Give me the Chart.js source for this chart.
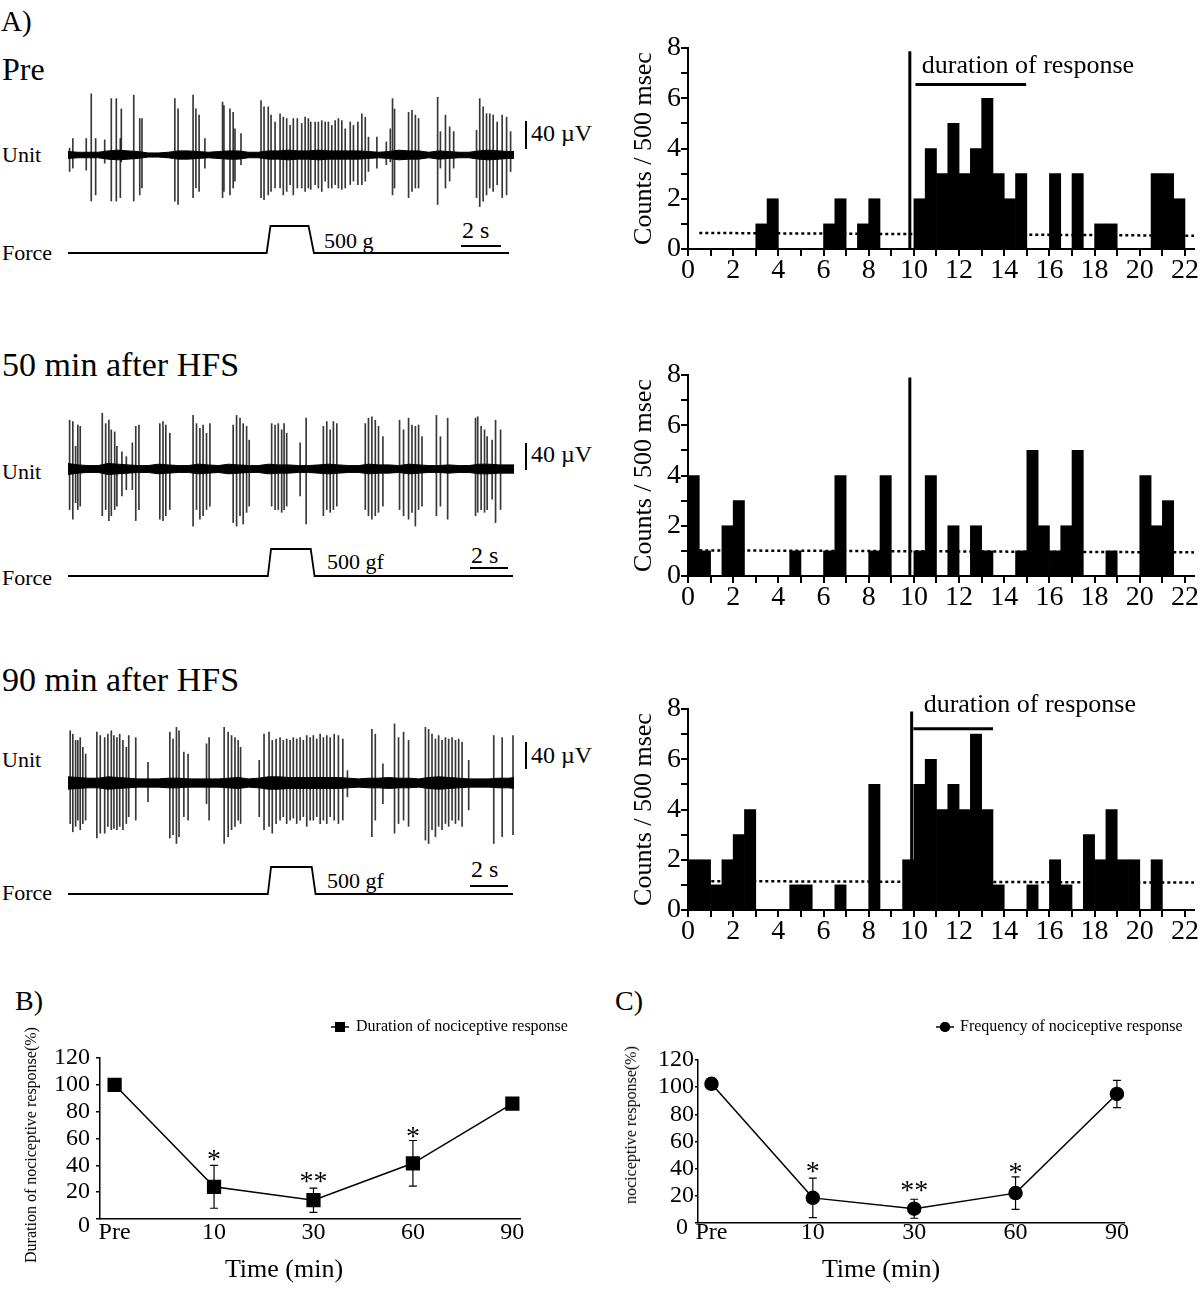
<!DOCTYPE html>
<html>
<head>
<meta charset="utf-8">
<script src="https://cdn.jsdelivr.net/npm/chart.js@4.4.0/dist/chart.umd.min.js"></script>
<style>
    body { margin: 0; width: 1200px; height: 1294px; background: #fff; position: relative; overflow: hidden;
           font-family: "Liberation Serif", "Times New Roman", serif; color: #000; }
    .t { position: absolute; white-space: nowrap; line-height: 1; }
    .rot { transform: translate(-50%, -50%) rotate(-90deg); transform-origin: center; }
    .mid { transform: translateX(-50%); }
    canvas { position: absolute; }
    .bar { position: absolute; background: #000; }
</style>
</head>
<body>

<!-- panel A texts -->
<div class="t" style="left:1px; top:7px; font-size:29px">A)</div>
<div class="t" style="left:2px; top:53px; font-size:32px">Pre</div>
<div class="t" style="left:2px; top:348px; font-size:34px">50 min after HFS</div>
<div class="t" style="left:2px; top:663px; font-size:34px">90 min after HFS</div>

<div class="t" style="left:2px; top:144px; font-size:22px">Unit</div>
<div class="t" style="left:2px; top:461px; font-size:22px">Unit</div>
<div class="t" style="left:2px; top:749px; font-size:22px">Unit</div>
<div class="t" style="left:2px; top:242px; font-size:22px">Force</div>
<div class="t" style="left:2px; top:567px; font-size:22px">Force</div>
<div class="t" style="left:2px; top:882px; font-size:22px">Force</div>

<div class="t" style="left:324px; top:230px; font-size:22px">500 g</div>
<div class="t" style="left:327px; top:551px; font-size:22px">500 gf</div>
<div class="t" style="left:327px; top:870px; font-size:22px">500 gf</div>

<div class="t" style="left:462px; top:218px; font-size:24px">2 s</div>
<div class="t" style="left:471px; top:543px; font-size:24px">2 s</div>
<div class="t" style="left:471px; top:857px; font-size:24px">2 s</div>
<div class="bar" style="left:461px; top:245px; width:40px; height:2px"></div>
<div class="bar" style="left:470px; top:567px; width:38px; height:2px"></div>
<div class="bar" style="left:470px; top:885px; width:38px; height:2px"></div>

<div class="t" style="left:531px; top:121px; font-size:24px">40 µV</div>
<div class="t" style="left:531px; top:442px; font-size:24px">40 µV</div>
<div class="t" style="left:531px; top:743px; font-size:24px">40 µV</div>
<div class="bar" style="left:525px; top:121px; width:2px; height:28px"></div>
<div class="bar" style="left:525px; top:443px; width:2px; height:27px"></div>
<div class="bar" style="left:525px; top:742px; width:2px; height:27px"></div>

<canvas id="unitPre" width="446" height="132" style="left:68px; top:89px"></canvas>
<canvas id="unit50" width="446" height="132" style="left:68px; top:403px"></canvas>
<canvas id="unit90" width="446" height="132" style="left:68px; top:717px"></canvas>
<canvas id="forcePre" width="446" height="35" style="left:68px; top:222px"></canvas>
<canvas id="force50" width="446" height="35" style="left:68px; top:545px"></canvas>
<canvas id="force90" width="446" height="35" style="left:68px; top:863px"></canvas>

<canvas id="histPre" width="600" height="270" style="left:600px; top:20px"></canvas>
<canvas id="hist50" width="600" height="271" style="left:600px; top:345px"></canvas>
<canvas id="hist90" width="600" height="275" style="left:600px; top:675px"></canvas>

<!-- panels B and C -->
<div class="t" style="left:15px; top:987px; font-size:28px">B)</div>
<div class="t" style="left:615px; top:987px; font-size:28px">C)</div>
<canvas id="durChart" width="600" height="294" style="left:0px; top:1000px"></canvas>
<canvas id="freqChart" width="600" height="294" style="left:600px; top:1000px"></canvas>
<div class="t mid" style="left:284px; top:1256px; font-size:26px">Time (min)</div>
<div class="t mid" style="left:881px; top:1256px; font-size:26px">Time (min)</div>
<div class="t rot" style="left:31px; top:1145px; font-size:16px">Duration of nociceptive response(%)</div>
<div class="t rot" style="left:631px; top:1125px; font-size:16px">nociceptive response(%)</div>

<script>
// =============================================================================
// Data
// =============================================================================

// peri-stimulus histograms: counts per 500 ms bin, 0 - 22 s
const binWidth = 0.5;
const preCounts   = [0,0,0,0,0,0,1,2,0,0,0,0,1,2,0,1,2,0,0,0,2,4,3,5,3,4,6,3,2,3,0,0,3,0,3,0,1,1,0,0,0,3,3,2];
const hfs50Counts = [4,1,0,2,3,0,0,0,0,1,0,0,1,4,0,0,1,4,0,0,1,4,0,2,0,2,1,0,0,1,5,2,1,2,5,0,0,1,0,0,4,2,3,0];
const hfs90Counts = [2,2,1,2,3,4,0,0,0,1,1,0,0,1,0,0,5,0,0,2,5,6,4,5,4,7,4,1,0,0,1,0,2,1,0,3,2,4,2,2,0,2,0,0];

// dotted spontaneous-rate line (left end, right end) and its x span
const baselineSpan = [0.5, 22.4];
const preBaseline = [0.64, 0.53];
const hfs50Baseline = [1.02, 0.94];
const hfs90Baseline = [1.15, 1.09];

// stimulus onset line (s, top count) and "duration of response" bar (start, end, height)
const stimOnset = [9.82, 9.82, 9.9];
const stimTop = [7.87, 7.9, 7.9];
const preResp = [10.07, 14.97, 6.55];
const hfs90Resp = [9.98, 13.5, 7.21];
const preRespLabel = [15.05, 7.27];
const hfs90RespLabel = [15.13, 8.17];

// unit recordings: spikes as [time s, upward uV, downward uV]
const preSpikes = [
    [0.08,10,24],[0.24,24,19],[0.91,24,22],[1.16,89,67],[1.38,24,58],[1.83,22,12],[2.16,82,67],[2.41,82,67],
    [2.61,24,62],[2.66,67,10],[3.28,87,67],[3.58,53,58],[3.69,53,48],[5.33,82,67],[5.49,67,72],[6.24,87,62],
    [6.38,67,48],[6.54,58,53],[6.83,24,19],[7.71,77,62],[7.78,72,53],[8.08,67,58],[8.24,62,48],[8.33,38,38],
    [8.63,31,14],[9.63,79,62],[9.78,70,65],[9.99,70,58],[10.13,58,53],[10.33,48,48],[10.58,60,48],[10.74,55,58],
    [10.91,53,53],[11.08,43,43],[11.24,53,58],[11.44,53,48],[11.66,46,48],[11.83,55,53],[11.99,53,48],[12.11,48,50],
    [12.33,48,43],[12.49,48,48],[12.66,50,53],[12.83,48,38],[12.99,48,48],[13.16,43,48],[13.33,50,43],[13.49,53,48],
    [13.66,50,50],[13.83,38,48],[14.08,48,43],[14.24,43,38],[14.46,48,43],[14.66,60,43],[14.83,55,38],[14.99,26,24],
    [15.41,26,19],[15.88,19,14],[16.08,38,10],[16.19,82,58],[16.29,67,48],[16.99,62,62],[17.16,65,53],[17.33,58,48],
    [17.49,53,48],[18.44,84,72],[18.58,34,19],[18.83,58,48],[19.04,41,38],[19.24,34,19],[20.38,36,62],[20.54,82,75],
    [20.71,70,67],[20.88,60,58],[21.04,60,48],[21.21,58,53],[21.41,48,43],[21.66,58,62],[21.88,55,58],[22.08,34,24]
];
const hfs50Spikes = [
    [0.08,71,59],[0.24,69,73],[0.38,33,49],[0.49,64,59],[0.61,62,54],[1.71,81,68],[1.88,66,59],[2.04,71,75],
    [2.16,57,68],[2.33,54,59],[2.44,33,54],[2.69,25,39],[2.91,18,30],[3.21,38,30],[3.38,62,75],[3.54,64,59],
    [4.58,66,73],[4.74,69,75],[4.88,64,68],[5.08,52,59],[6.24,78,83],[6.41,66,59],[6.58,59,73],[6.74,64,68],
    [6.91,52,59],[7.08,66,54],[8.24,64,78],[8.41,78,83],[8.58,74,68],[8.74,66,80],[8.91,62,63],[9.04,42,54],
    [10.16,66,54],[10.33,64,59],[10.49,66,59],[10.66,57,63],[10.78,66,59],[10.91,52,54],[11.58,38,39],[11.88,74,80],
    [12.74,62,68],[12.91,69,59],[13.08,57,63],[13.24,69,59],[13.41,66,54],[14.83,66,59],[14.99,74,68],[15.16,76,73],
    [15.33,71,68],[15.49,62,63],[15.71,47,54],[16.54,71,59],[16.74,57,68],[16.99,74,73],[17.16,64,63],[17.33,62,83],
    [17.49,64,59],[17.66,47,54],[18.38,78,68],[18.58,47,54],[18.94,74,73],[20.33,74,68],[20.44,76,63],[20.61,62,59],
    [20.78,57,63],[20.91,47,59],[21.16,42,44],[21.33,71,78],[21.58,57,59]
];
const hfs90Spikes = [
    [0.11,76,59],[0.24,71,71],[0.38,62,63],[0.49,62,54],[0.61,66,68],[0.74,52,59],[0.88,42,54],[1.44,74,80],
    [1.61,69,73],[1.83,66,73],[1.99,71,63],[2.16,76,68],[2.29,69,66],[2.44,66,68],[2.58,71,63],[2.74,62,68],
    [2.91,52,59],[3.03,69,49],[3.38,66,54],[3.99,30,27],[5.08,74,80],[5.24,64,75],[5.41,81,88],[5.54,76,78],
    [5.78,45,49],[5.99,42,54],[6.91,57,30],[7.04,66,54],[7.79,81,88],[7.99,74,78],[8.16,69,68],[8.33,66,63],
    [8.49,62,54],[8.61,52,59],[9.54,33,49],[9.78,71,68],[10.03,74,63],[10.19,62,73],[10.38,64,59],[10.58,66,54],
    [10.74,62,49],[10.91,64,59],[11.08,62,54],[11.24,66,51],[11.41,64,59],[11.58,66,54],[11.74,62,49],[11.91,69,63],
    [12.08,66,54],[12.24,69,54],[12.41,64,49],[12.58,71,59],[12.74,66,54],[12.91,69,59],[13.08,66,49],[13.28,71,54],
    [13.49,69,59],[13.71,64,54],[13.94,18,20],[15.16,78,78],[15.33,71,54],[15.71,28,30],[16.29,86,73],[16.49,66,59],
    [16.74,74,54],[16.99,62,63],[17.83,81,83],[17.99,78,88],[18.16,71,68],[18.33,64,78],[18.49,69,63],[18.66,62,68],
    [18.83,66,59],[18.99,64,63],[19.16,66,54],[19.33,62,59],[19.49,64,54],[19.66,59,63],[19.99,33,39],[21.24,69,88],
    [21.66,66,78],[22.2,69,75]
];

// background noise half-width (uV), one value per half second
const noiseT = [0,0.5,1,1.5,2,2.5,3,3.5,4,4.5,5,5.5,6,6.5,7,7.5,8,8.5,9,9.5,10,10.5,11,11.5,12,12.5,13,13.5,14,14.5,
                15,15.5,16,16.5,17,17.5,18,18.5,19,19.5,20,20.5,21,21.5,22,22.25];
const preNoise   = [5,4,4,4,6,7,6,5,3,3,4,6,6,5,4,5,6,6,4,4,6,6,7,6,6,7,6,6,6,6,
                    5,4,5,7,6,6,4,6,5,4,4,6,7,6,5,5];
const hfs50Noise = [8,6,5,5,8,7,6,5,5,7,6,5,5,7,6,5,7,6,5,5,7,6,6,5,5,6,7,6,5,5,
                    7,6,6,5,7,6,5,5,6,5,5,7,7,6,6,6];
const hfs90Noise = [9,8,7,7,9,8,7,6,6,6,7,7,6,6,6,6,7,8,6,7,9,9,8,8,8,8,8,8,7,6,
                    7,7,8,7,7,6,8,9,8,7,6,6,6,7,7,8];

// force trace (s, g)
const preForceT = [0, 9.91, 10.1, 12.0, 12.27, 22.0];
const hfs50ForceT = [0, 9.97, 10.13, 12.11, 12.3, 22.2];
const hfs90ForceT = [0, 9.97, 10.13, 12.16, 12.35, 22.2];
const forceG = [0, 0, 500, 500, 0, 0];

// panels B and C
const timeLabels = ['Pre', '10', '30', '60', '90'];
const durMean = [100, 24, 14, 41.5, 86];
const durErr  = [0, 16, 9, 17, 1.5];
const durSigY = [0, 49, 33, 66, 0];
const freqMean = [102.5, 18.5, 10.5, 22, 95];
const freqErr  = [0, 14.5, 7, 12, 10];
const freqSigY = [0, 42.5, 28.5, 42, 0];
const sigMarks = ['', '*', '**', '*', ''];

// =============================================================================
// Setup
// =============================================================================

const SERIF = '"Liberation Serif", "Times New Roman", serif';
Chart.defaults.font.family = SERIF;
Chart.defaults.color = '#000';
Chart.defaults.animation = false;
Chart.defaults.plugins.legend.display = false;
Chart.defaults.plugins.tooltip.enabled = false;

const traceSpan = 22.25;
const uvRange = 96;

function xy(xs, ys) {
    return xs.map((x, i) => ({ x: x, y: ys[i] }));
}

// =============================================================================
// Unit + force traces
// =============================================================================

function makeTrace(unitId, forceId, spikes, noise, forceT) {
    new Chart(document.getElementById(unitId), {
        type: 'bar',
        data: {
            datasets: [
                { type: 'line', data: xy(noiseT, noise), borderColor: '#000', borderWidth: 1,
                  pointRadius: 0, fill: false },
                { type: 'line', data: xy(noiseT, noise.map(v => -v)), borderColor: '#000', borderWidth: 1,
                  pointRadius: 0, fill: '-1', backgroundColor: '#000' },
                { type: 'bar', data: spikes.map(s => ({ x: s[0], y: [-s[2], s[1]] })),
                  backgroundColor: 'rgba(20,20,20,0.85)', barThickness: 1 }
            ]
        },
        options: {
            responsive: false,
            layout: { padding: 0 },
            scales: {
                x: { type: 'linear', min: 0, max: traceSpan, offset: false, display: false },
                y: { min: -uvRange, max: uvRange, display: false }
            }
        }
    });

    new Chart(document.getElementById(forceId), {
        type: 'line',
        data: {
            datasets: [{ data: xy(forceT, forceG), borderColor: '#000', borderWidth: 1.8,
                         pointRadius: 0, tension: 0, clip: false }]
        },
        options: {
            responsive: false,
            layout: { padding: { top: 4, bottom: 4 } },
            scales: {
                x: { type: 'linear', min: 0, max: traceSpan, display: false },
                y: { min: 0, max: 500, display: false }
            }
        }
    });
}

makeTrace('unitPre', 'forcePre', preSpikes, preNoise, preForceT);
makeTrace('unit50', 'force50', hfs50Spikes, hfs50Noise, hfs50ForceT);
makeTrace('unit90', 'force90', hfs90Spikes, hfs90Noise, hfs90ForceT);

// =============================================================================
// Histograms
// =============================================================================

const respLabelPlugin = {
    id: 'respLabel',
    afterDatasetsDraw(chart, args, opts) {
        if (!opts.at) return;
        const { ctx, scales: { x, y } } = chart;
        ctx.save();
        ctx.font = '26px ' + SERIF;
        ctx.fillStyle = '#000';
        ctx.textAlign = 'center';
        ctx.textBaseline = 'middle';
        ctx.fillText('duration of response', x.getPixelForValue(opts.at[0]), y.getPixelForValue(opts.at[1]));
        ctx.restore();
    }
};

function makeHist(id, counts, baseline, stimIdx, resp, respLabel, padTop, xAxisH) {
    const bins = counts.map((c, i) => ({ x: i * binWidth + binWidth / 2, y: c }));
    const datasets = [
        { type: 'line', data: xy(baselineSpan, baseline), borderColor: '#000', borderWidth: 2.5,
          borderDash: [3, 3], pointRadius: 0, order: 3 },
        { type: 'bar', data: bins, backgroundColor: '#000', barPercentage: 1, categoryPercentage: 1, order: 2 },
        { type: 'line', data: xy([stimOnset[stimIdx], stimOnset[stimIdx]], [0, stimTop[stimIdx]]),
          borderColor: '#000', borderWidth: 3, pointRadius: 0, order: 1 }
    ];
    if (resp) {
        datasets.push({ type: 'line', data: xy([resp[0], resp[1]], [resp[2], resp[2]]),
                        borderColor: '#000', borderWidth: 3, pointRadius: 0, order: 1 });
    }
    const axisGrid = { drawOnChartArea: false, drawTicks: true, tickLength: 7, lineWidth: 2, color: '#000' };
    new Chart(document.getElementById(id), {
        type: 'bar',
        data: { datasets: datasets },
        plugins: [respLabelPlugin],
        options: {
            responsive: false,
            layout: { padding: { top: padTop, right: 6, left: 0, bottom: 0 } },
            plugins: { respLabel: { at: respLabel } },
            scales: {
                x: {
                    type: 'linear', min: 0, max: 22.4, offset: false,
                    grid: Object.assign({ offset: false }, axisGrid),
                    border: { color: '#000', width: 2 },
                    ticks: { stepSize: 1, includeBounds: false, autoSkip: false, maxRotation: 0, padding: 0,
                             font: { size: 28, lineHeight: 1.05 },
                             callback: v => (v % 2 === 0 ? v : '') },
                    afterFit: s => { s.height = xAxisH; }
                },
                y: {
                    min: 0, max: 8,
                    grid: axisGrid,
                    border: { color: '#000', width: 2 },
                    ticks: { stepSize: 1, padding: 0, autoSkip: false, font: { size: 28 },
                             callback: v => (v % 2 === 0 ? v : '') },
                    title: { display: true, text: 'Counts / 500 msec', font: { size: 26 },
                             padding: { top: 29, bottom: 0 } },
                    afterFit: s => { s.width = 88; }
                }
            }
        }
    });
}

makeHist('histPre', preCounts, preBaseline, 0, preResp, preRespLabel, 28, 41);
makeHist('hist50', hfs50Counts, hfs50Baseline, 1, null, null, 30, 40);
makeHist('hist90', hfs90Counts, hfs90Baseline, 2, hfs90Resp, hfs90RespLabel, 34, 40);

// =============================================================================
// Time course panels (B, C)
// =============================================================================

const nociPlugin = {
    id: 'noci',
    beforeDatasetsDraw(chart, args, o) {
        const { ctx, scales: { x, y } } = chart;
        ctx.save();
        ctx.strokeStyle = '#000';
        ctx.lineWidth = 1.2;
        o.mean.forEach((m, i) => {
            if (!o.err[i]) return;
            const px = x.getPixelForValue(i);
            const top = y.getPixelForValue(m + o.err[i]);
            const bot = y.getPixelForValue(m - o.err[i]);
            ctx.beginPath();
            ctx.moveTo(px, top); ctx.lineTo(px, bot);
            ctx.moveTo(px - 4, top); ctx.lineTo(px + 4, top);
            ctx.moveTo(px - 4, bot); ctx.lineTo(px + 4, bot);
            ctx.stroke();
        });
        ctx.restore();
    },
    afterDatasetsDraw(chart, args, o) {
        const { ctx, scales: { x, y } } = chart;
        ctx.save();
        ctx.fillStyle = '#000';
        // significance marks
        ctx.font = '28px ' + SERIF;
        ctx.textAlign = 'center';
        ctx.textBaseline = 'alphabetic';
        sigMarks.forEach((s, i) => {
            if (s) ctx.fillText(s, x.getPixelForValue(i), y.getPixelForValue(o.sigY[i]) + 15);
        });
        // the "0" of the y axis sits a little below the axis line
        ctx.font = '24px ' + SERIF;
        ctx.textAlign = 'right';
        ctx.textBaseline = 'middle';
        ctx.fillText('0', y.right - o.labelGap - o.zero[0], y.getPixelForValue(0) + o.zero[1]);
        // legend
        const lx = o.legend[0], ly = o.legend[1];
        ctx.strokeStyle = '#000';
        ctx.lineWidth = 1.5;
        ctx.beginPath();
        ctx.moveTo(lx - 9, ly); ctx.lineTo(lx + 9, ly);
        ctx.stroke();
        Chart.helpers.drawPoint(ctx, { pointStyle: o.style, radius: o.legendR, rotation: 0 }, lx, ly);
        ctx.fill();
        ctx.font = '16px ' + SERIF;
        ctx.textAlign = 'left';
        ctx.fillText(o.text, o.legend[2], ly);
        ctx.restore();
    }
};

function makeCourse(id, mean, err, sigY, style, radius, area, legend, text, zero) {
    new Chart(document.getElementById(id), {
        type: 'line',
        data: {
            datasets: [{
                data: mean.map((v, i) => ({ x: i, y: v })),
                borderColor: '#000', borderWidth: 1.5, tension: 0,
                pointStyle: style, pointRadius: radius, pointBackgroundColor: '#000', pointBorderColor: '#000'
            }]
        },
        plugins: [nociPlugin],
        options: {
            responsive: false,
            layout: { padding: { top: area.top, right: area.right, left: 0, bottom: 0 } },
            plugins: {
                noci: { mean: mean, err: err, sigY: sigY, style: style, legendR: radius * 0.78,
                        legend: legend, text: text, zero: zero, labelGap: area.tick + area.pad }
            },
            scales: {
                x: {
                    type: 'linear', min: area.xmin, max: area.xmax,
                    grid: { drawOnChartArea: false, drawTicks: false },
                    border: { color: '#000', width: 1.5 },
                    afterBuildTicks: s => { s.ticks = timeLabels.map((_, i) => ({ value: i })); },
                    ticks: { autoSkip: false, maxRotation: 0, padding: area.xpad,
                             font: { size: 24, lineHeight: area.xlh },
                             callback: v => timeLabels[v] },
                    afterFit: s => { s.height = area.xh; }
                },
                y: {
                    min: 0, max: 120,
                    grid: { drawOnChartArea: false, drawTicks: true, tickLength: area.tick,
                            lineWidth: 1.5, color: '#000' },
                    border: { color: '#000', width: 1.5 },
                    ticks: { stepSize: 20, autoSkip: false, padding: area.pad, font: { size: 24 },
                             callback: v => (v === 0 ? '' : v) },
                    afterFit: s => { s.width = area.yw; }
                }
            }
        }
    });
}

makeCourse('durChart', durMean, durErr, durSigY, 'rect', 9,
    { top: 58, right: 80, yw: 100, xh: 75, xmin: -0.147, xmax: 4.077, tick: 4, pad: 6, xpad: 2, xlh: 1.0 },
    [340, 27, 356], 'Duration of nociceptive response', [0, 7]);
makeCourse('freqChart', freqMean, freqErr, freqSigY, 'circle', 6.5,
    { top: 60, right: 76, yw: 98, xh: 71, xmin: -0.133, xmax: 4.07, tick: 3, pad: 1, xpad: 0, xlh: 0.8 },
    [345, 27, 360], 'Frequency of nociceptive response', [6, 5]);
</script>
</body>
</html>
